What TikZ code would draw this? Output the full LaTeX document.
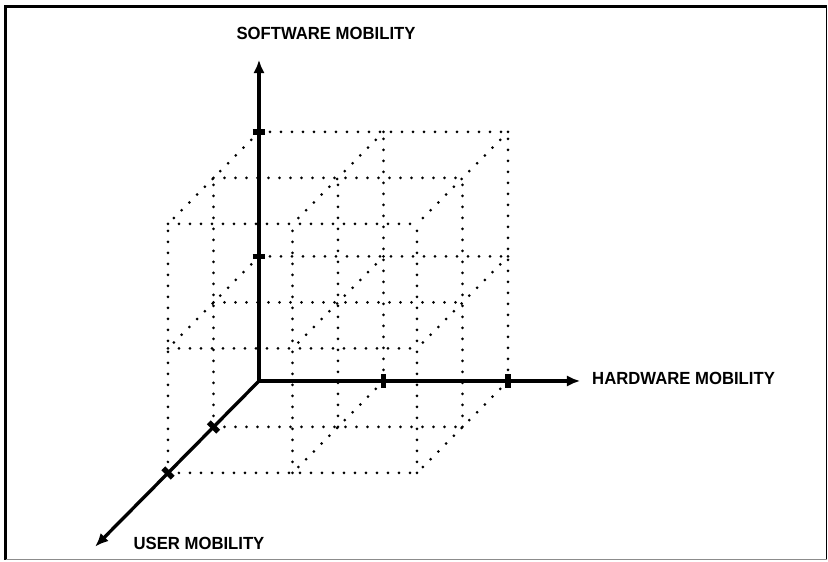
\documentclass[tikz,border=0pt]{standalone}
\usepackage{fontspec}
\setmainfont{Liberation Sans}
\usetikzlibrary{arrows.meta}

\tikzset{
  axis/.style={line width=0.13cm, -{Latex[length=0.4cm,width=0.34cm]}},
  tickmark/.style={line width=0.16cm},
  grid dots/.style={line width=0.09cm, line cap=round, dash pattern=on 0pt off 0.33cm},
  axislabel/.style={inner sep=0pt, font=\fontsize{15}{18}\selectfont\bfseries, xscale=0.95}
}

\begin{document}
\begin{tikzpicture}[x=3.735cm, y=3.735cm, z={(-1.365cm,-1.38cm)}]
% Page size and frame
\useasboundingbox (-7.77cm,-5.43cm) rectangle (17.07cm,11.43cm);
\draw[line width=0.08cm] (-7.6cm,-5.36cm) |- (17.03cm,11.24cm);
\draw[line width=0.04cm] (17.03cm,11.24cm) -- (17.03cm,-5.36cm);
\draw[line width=0.04cm, black!45] (-7.6cm,-5.36cm) -- (17.03cm,-5.36cm);

% Dotted lattice, lines along the hardware axis
\draw[grid dots] (0,0,0) -- (2,0,0);
\draw[grid dots] (0,1,0) -- (2,1,0);
\draw[grid dots] (0,2,0) -- (2,2,0);
\draw[grid dots] (0,0,1) -- (2,0,1);
\draw[grid dots] (0,1,1) -- (2,1,1);
\draw[grid dots] (0,2,1) -- (2,2,1);
\draw[grid dots] (0,0,2) -- (2,0,2);
\draw[grid dots] (0,1,2) -- (2,1,2);
\draw[grid dots] (0,2,2) -- (2,2,2);
% lines along the software axis
\draw[grid dots] (0,0,0) -- (0,2,0);
\draw[grid dots] (1,0,0) -- (1,2,0);
\draw[grid dots] (2,0,0) -- (2,2,0);
\draw[grid dots] (0,0,1) -- (0,2,1);
\draw[grid dots] (1,0,1) -- (1,2,1);
\draw[grid dots] (2,0,1) -- (2,2,1);
\draw[grid dots] (0,0,2) -- (0,2,2);
\draw[grid dots] (1,0,2) -- (1,2,2);
\draw[grid dots] (2,0,2) -- (2,2,2);
% lines along the user axis
\draw[grid dots] (0,0,0) -- (0,0,2);
\draw[grid dots] (1,0,0) -- (1,0,2);
\draw[grid dots] (2,0,0) -- (2,0,2);
\draw[grid dots] (0,1,0) -- (0,1,2);
\draw[grid dots] (1,1,0) -- (1,1,2);
\draw[grid dots] (2,1,0) -- (2,1,2);
\draw[grid dots] (0,2,0) -- (0,2,2);
\draw[grid dots] (1,2,0) -- (1,2,2);
\draw[grid dots] (2,2,0) -- (2,2,2);

% Axes
\coordinate (O) at (0,0,0);
\coordinate (sw) at (0,2.58,0);
\coordinate (hw) at (2.58,0,0);
\coordinate (us) at (0,0,3.6);
\draw[axis] (O) -- (sw);
\draw[axis] (O) -- (hw);
\draw[axis, line width=0.1cm] (O) -- (us);

% Tick marks
\draw[tickmark] (0,1,0) ++(-0.19cm,0) -- ++(0.38cm,0);
\draw[tickmark] (0,2,0) ++(-0.19cm,0) -- ++(0.38cm,0);
\draw[tickmark] (1,0,0) ++(0,-0.2cm) -- ++(0,0.4cm);
\draw[tickmark] (2,0,0) ++(0,-0.2cm) -- ++(0,0.4cm);
\draw[tickmark] (0,0,1) ++(-0.14cm,0.14cm) -- ++(0.28cm,-0.28cm);
\draw[tickmark] (0,0,2) ++(-0.14cm,0.14cm) -- ++(0.28cm,-0.28cm);

% Axis labels
\node[axislabel] (swlabel) at (2.01cm,10.44cm) {SOFTWARE MOBILITY};
\node[axislabel, anchor=west] (hwlabel) at (9.99cm,0.09cm) {HARDWARE MOBILITY};
\node[axislabel] (uslabel) at (-1.8cm,-4.875cm) {USER MOBILITY};
\end{tikzpicture}
\end{document}
